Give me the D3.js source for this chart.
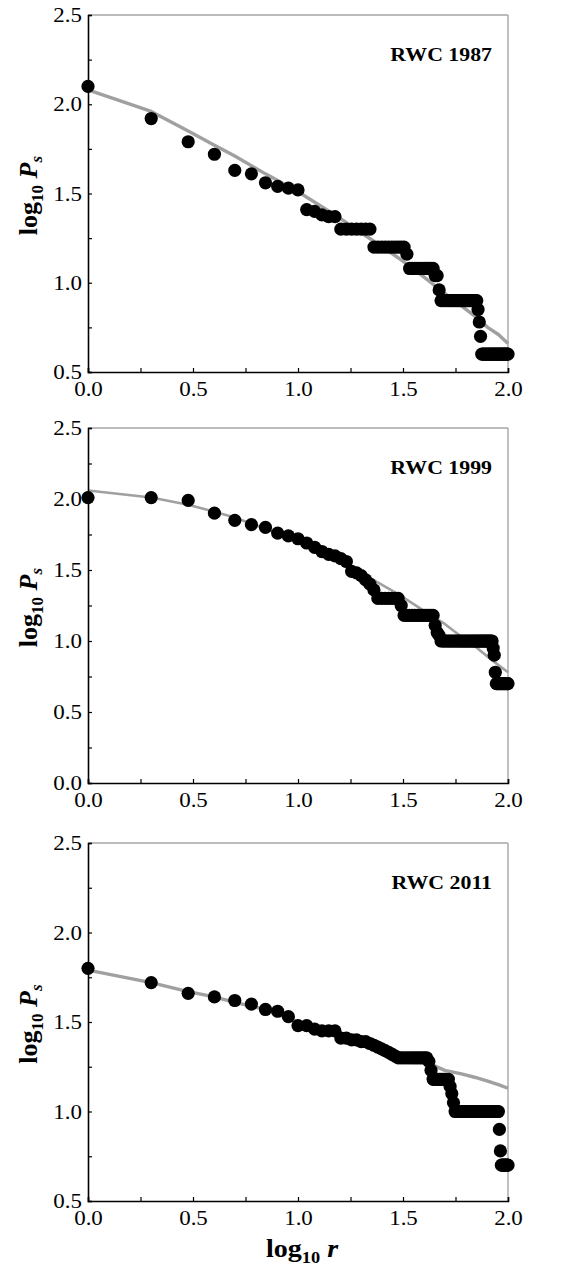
<!DOCTYPE html>
<html>
<head>
<meta charset="utf-8">
<script src="https://cdn.jsdelivr.net/npm/d3@7"></script>
<style>
  html, body { margin: 0; padding: 0; background: #fff; }
  svg { display: block; }
</style>
</head>
<body>
<svg id="chart" width="583" height="1267"></svg>
<script>
// ---- Data ----
// Observed log10 Ps for ranks r = 1, 2, 3, ... (x = log10 r)
const values1987 = [
  2.10, 1.92, 1.79, 1.72, 1.63, 1.61, 1.56, 1.54, 1.53, 1.52,
  1.41, 1.40, 1.38, 1.37, 1.37,
  1.30, 1.30, 1.30, 1.30, 1.30, 1.30, 1.30,
  1.20, 1.20, 1.20, 1.20, 1.20, 1.20, 1.20, 1.20, 1.20, 1.20,
  1.16,
  1.08, 1.08, 1.08, 1.08, 1.08, 1.08, 1.08, 1.08, 1.08, 1.08, 1.08,
  1.04, 1.04,
  0.96,
  0.90, 0.90, 0.90, 0.90, 0.90, 0.90, 0.90, 0.90, 0.90, 0.90, 0.90, 0.90,
  0.90, 0.90, 0.90, 0.90, 0.90, 0.90, 0.90, 0.90, 0.90, 0.90, 0.90, 0.90,
  0.85, 0.78, 0.70,
  0.60, 0.60, 0.60, 0.60, 0.60, 0.60, 0.60, 0.60, 0.60, 0.60, 0.60, 0.60, 0.60,
  0.60, 0.60, 0.60, 0.60, 0.60, 0.60, 0.60, 0.60, 0.60, 0.60, 0.60, 0.60, 0.60
];
const values1999 = [
  2.01, 2.01, 1.99, 1.90, 1.85, 1.82, 1.80, 1.76, 1.74, 1.72,
  1.69, 1.66, 1.63, 1.61, 1.60, 1.58,
  1.56, 1.49, 1.48, 1.46, 1.43, 1.40, 1.36,
  1.30, 1.30, 1.30, 1.30, 1.30, 1.30, 1.30,
  1.25,
  1.18, 1.18, 1.18, 1.18, 1.18, 1.18, 1.18, 1.18, 1.18, 1.18, 1.18, 1.18, 1.18,
  1.11, 1.06, 1.04,
  1.00, 1.00, 1.00, 1.00, 1.00, 1.00, 1.00, 1.00, 1.00, 1.00,
  1.00, 1.00, 1.00, 1.00, 1.00, 1.00, 1.00, 1.00, 1.00, 1.00,
  1.00, 1.00, 1.00, 1.00, 1.00, 1.00, 1.00, 1.00, 1.00, 1.00,
  1.00, 1.00, 1.00, 1.00, 1.00, 1.00, 1.00,
  0.95, 0.90, 0.78,
  0.70, 0.70, 0.70, 0.70, 0.70, 0.70, 0.70, 0.70, 0.70, 0.70, 0.70, 0.70, 0.70
];
const values2011 = [
  1.80, 1.72, 1.66, 1.64, 1.62, 1.60, 1.57, 1.56, 1.53, 1.48,
  1.48, 1.46, 1.45, 1.45, 1.45,
  1.41, 1.41, 1.40, 1.40, 1.39, 1.39, 1.38, 1.37, 1.36, 1.35, 1.34, 1.33, 1.32, 1.31,
  1.30, 1.30, 1.30, 1.30, 1.30, 1.30, 1.30, 1.30, 1.30, 1.30, 1.30, 1.30,
  1.28, 1.23,
  1.18, 1.18, 1.18, 1.18, 1.18, 1.18, 1.18, 1.18, 1.18,
  1.14, 1.10, 1.05,
  1.00, 1.00, 1.00, 1.00, 1.00, 1.00, 1.00, 1.00, 1.00, 1.00,
  1.00, 1.00, 1.00, 1.00, 1.00, 1.00, 1.00, 1.00, 1.00, 1.00,
  1.00, 1.00, 1.00, 1.00, 1.00, 1.00, 1.00, 1.00, 1.00, 1.00,
  1.00, 1.00, 1.00, 1.00, 1.00,
  0.90, 0.78,
  0.70, 0.70, 0.70, 0.70, 0.70, 0.70, 0.70, 0.70
];

// Fitted curve (grey) read at selected ranks
const fitRanks   = [1, 2, 3, 4, 5, 7, 10, 15, 20, 30, 40, 50, 60, 70, 80, 90, 100];
const fit1987 = [2.08, 1.96, 1.85, 1.77, 1.71, 1.61, 1.51, 1.38, 1.28, 1.14, 1.03, 0.94, 0.87, 0.81, 0.75, 0.71, 0.66];
const fit1999 = [2.06, 2.01, 1.96, 1.91, 1.87, 1.79, 1.70, 1.58, 1.48, 1.33, 1.21, 1.12, 1.03, 0.96, 0.89, 0.83, 0.78];
const fit2011 = [1.79, 1.72, 1.67, 1.64, 1.61, 1.57, 1.50, 1.44, 1.39, 1.33, 1.28, 1.23, 1.21, 1.19, 1.17, 1.15, 1.13];

const panelTitles = ["RWC 1987", "RWC 1999", "RWC 2011"];
const xTickValues = [0, 0.25, 0.5, 0.75, 1.0, 1.25, 1.5, 1.75, 2.0];
const yTicks0 = [0, 0.25, 0.5, 0.75, 1.0, 1.25, 1.5, 1.75, 2.0, 2.25, 2.5];
const yTicks05 = [0.5, 0.75, 1.0, 1.25, 1.5, 1.75, 2.0, 2.25, 2.5];

// ---- Layout ----
const FONT = "'Liberation Serif', 'Times New Roman', serif";
const STRETCH = 1.12;
const panels = [
  { title: panelTitles[0], values: values1987, fit: fit1987, yDomain: [0.5, 2.5], yTicks: yTicks05, top: 15,  bottom: 372,  lineW: 3.4 },
  { title: panelTitles[1], values: values1999, fit: fit1999, yDomain: [0.0, 2.5], yTicks: yTicks0,  top: 428, bottom: 783,  lineW: 2.6 },
  { title: panelTitles[2], values: values2011, fit: fit2011, yDomain: [0.5, 2.5], yTicks: yTicks05, top: 843, bottom: 1201, lineW: 3.4 }
];
const left = 88, right = 508;

const svg = d3.select("#chart");
svg.append("rect").attr("width", 583).attr("height", 1267).attr("fill", "#fff");

const x = d3.scaleLinear().domain([0, 2]).range([left, right]);
const fmt = d3.format(".1f");
const isMajor = d => Math.abs(d * 2 - Math.round(d * 2)) < 1e-9;

panels.forEach(p => {
  const y = d3.scaleLinear().domain(p.yDomain).range([p.bottom, p.top]);
  const g = svg.append("g");

  // top & right frame (grey)
  g.append("line").attr("x1", left).attr("x2", right).attr("y1", p.top).attr("y2", p.top)
    .attr("stroke", "#a6a6a6").attr("stroke-width", 1.4);
  g.append("line").attr("x1", right).attr("x2", right).attr("y1", p.top).attr("y2", p.bottom)
    .attr("stroke", "#a6a6a6").attr("stroke-width", 1.4);

  // fit line
  const fitPts = fitRanks.map((r, i) => [Math.log10(r), p.fit[i]]);
  g.append("path")
    .datum(fitPts)
    .attr("fill", "none")
    .attr("stroke", "#a0a0a0")
    .attr("stroke-width", p.lineW)
    .attr("stroke-linejoin", "round")
    .attr("d", d3.line().x(d => x(d[0])).y(d => y(d[1])));

  // points
  g.append("g").selectAll("circle")
    .data(p.values.map((v, i) => [Math.log10(i + 1), v]))
    .join("circle")
    .attr("cx", d => x(d[0]))
    .attr("cy", d => y(d[1]))
    .attr("r", 6.6)
    .attr("fill", "#000");

  // x axis
  const xa = g.append("g").attr("transform", `translate(0,${p.bottom})`)
    .call(d3.axisBottom(x).tickValues(xTickValues).tickSize(-4).tickPadding(9)
      .tickFormat(d => isMajor(d) ? fmt(d) : ""));
  // y axis
  const ya = g.append("g").attr("transform", `translate(${left},0)`)
    .call(d3.axisLeft(y).tickValues(p.yTicks).tickSize(-4).tickPadding(5.5)
      .tickFormat(d => isMajor(d) ? fmt(d) : ""));

  [xa, ya].forEach(a => {
    a.select(".domain").attr("stroke", "#000").attr("stroke-width", 1.6);
    a.selectAll(".tick line").attr("stroke", "#000").attr("stroke-width", 1.2);
    a.selectAll(".tick text")
      .attr("fill", "#000")
      .style("font-family", FONT)
      .style("font-size", "20.5px")
      .attr("transform", `scale(${STRETCH},1)`);
  });

  // panel title
  g.append("text")
    .attr("transform", `translate(492,${p.top + 46}) scale(${STRETCH},1)`)
    .attr("text-anchor", "end")
    .style("font-family", FONT)
    .style("font-weight", "bold")
    .style("font-size", "19.5px")
    .attr("fill", "#000")
    .text(p.title);

  // y-axis title: log10 Ps
  const cy = (p.top + p.bottom) / 2 + 2;
  const t = g.append("text")
    .attr("transform", `translate(37,${cy}) rotate(-90)`)
    .attr("text-anchor", "middle")
    .style("font-family", FONT)
    .style("font-weight", "bold")
    .style("font-size", "26px")
    .attr("fill", "#000");
  t.append("tspan").text("log");
  t.append("tspan").attr("dy", 6).style("font-size", "17px").text("10");
  t.append("tspan").attr("dy", -6).text("\u00A0");
  t.append("tspan").style("font-style", "italic").text("P");
  t.append("tspan").attr("dy", 5).style("font-style", "italic").style("font-size", "17px").text("s");
});

// x-axis title: log10 r
const xt = svg.append("text")
  .attr("transform", `translate(302,1257) scale(1.08,1)`)
  .attr("text-anchor", "middle")
  .style("font-family", FONT)
  .style("font-weight", "bold")
  .style("font-size", "26px")
  .attr("fill", "#000");
xt.append("tspan").text("log");
xt.append("tspan").attr("dy", 6).style("font-size", "17px").text("10");
xt.append("tspan").attr("dy", -6).text("\u00A0");
xt.append("tspan").style("font-style", "italic").text("r");
</script>
</body>
</html>
